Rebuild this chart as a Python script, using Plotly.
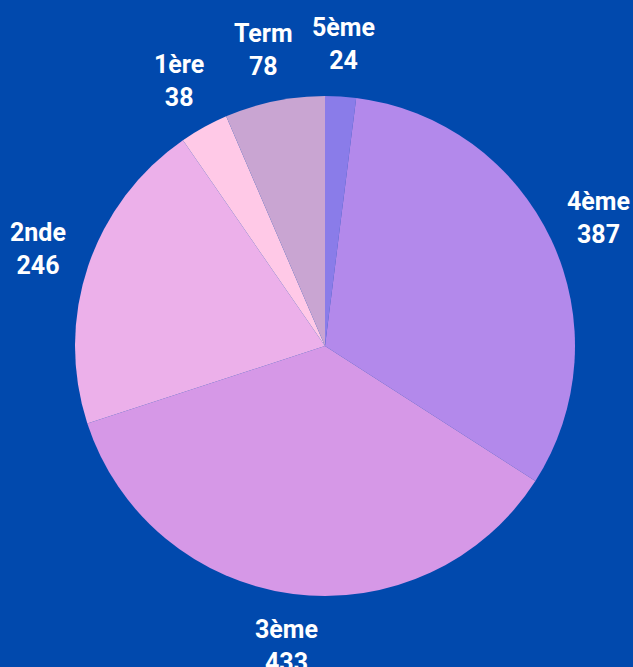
import math
import plotly.graph_objects as go

# effectifs par niveau
niveaux = ["5ème", "4ème", "3ème", "2nde", "1ère", "Term"]
effectifs = [24, 387, 433, 246, 38, 78]
couleurs = ["#8a7ce9", "#b389eb", "#d698e7", "#ecb0ea", "#ffc9e7", "#c9a5d2"]

W, H = 633, 667
cx, cy, R = 325, 346, 250   # centre et rayon du camembert (px)

fig = go.Figure()
fig.add_trace(go.Pie(
    labels=niveaux,
    values=effectifs,
    sort=False,
    direction="clockwise",
    rotation=0,
    marker=dict(colors=couleurs, line=dict(width=0)),
    textinfo="none",
    showlegend=False,
    hoverinfo="label+value",
    domain=dict(x=[(cx - R) / W, (cx + R) / W], y=[(H - cy - R) / H, (H - cy + R) / H]),
))

# étiquettes posées à l'extérieur, au milieu de chaque part
total = sum(effectifs)
cumul = 0
r_lab = 1.21 * R
for nom, val in zip(niveaux, effectifs):
    mid = (cumul + val / 2) / total * 2 * math.pi
    cumul += val
    fig.add_annotation(
        x=(cx + r_lab * math.sin(mid)) / W,
        y=(H - cy + r_lab * math.cos(mid)) / H,
        xref="paper", yref="paper",
        text=f"<b>{nom}</b><br><b>{val}</b>",
        showarrow=False,
        xanchor="center", yanchor="middle",
        font=dict(family="Roboto", size=25, color="white"),
    )

fig.update_layout(
    width=W, height=H,
    margin=dict(l=0, r=0, t=0, b=0),
    paper_bgcolor="#0149ad",
    plot_bgcolor="#0149ad",
)
fig.write_html("out.html", config={"displayModeBar": False},
               post_script="document.body.style.margin='0';")
